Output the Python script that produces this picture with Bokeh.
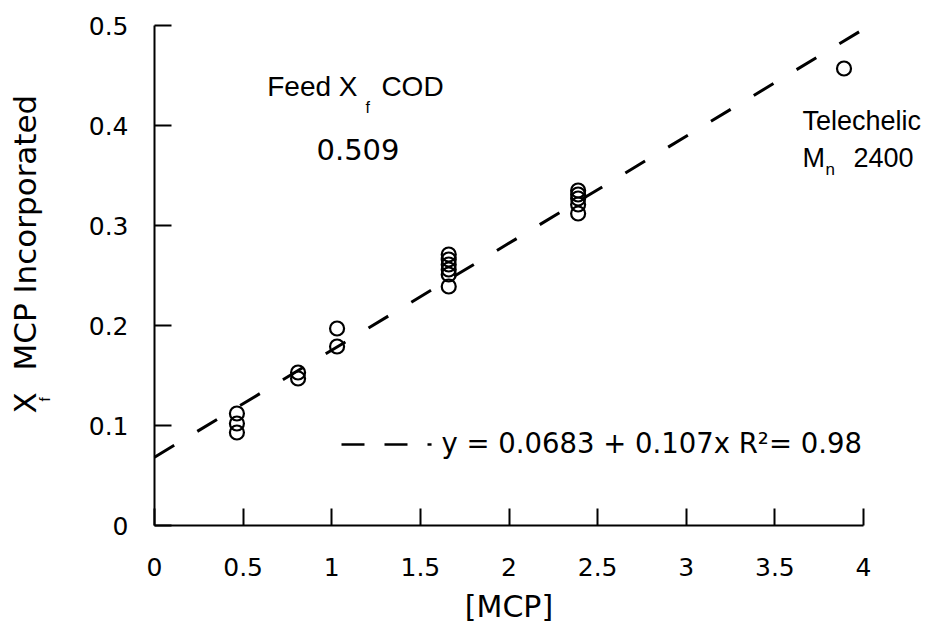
import math
from bokeh.plotting import figure
from bokeh.models import Label, FixedTicker, Range1d
from bokeh.embed import file_html
from bokeh.resources import INLINE

# ---- data ----
mcp_conc = [0.465, 0.465, 0.465, 0.81, 0.81, 1.03, 1.03,
            1.66, 1.66, 1.66, 1.66, 1.66, 1.66,
            2.39, 2.39, 2.39, 2.39, 2.39]
xf_incorporated = [0.112, 0.102, 0.093, 0.153, 0.147, 0.197, 0.179,
                   0.271, 0.266, 0.261, 0.256, 0.251, 0.239,
                   0.335, 0.331, 0.327, 0.321, 0.312]
telechelic_mcp = [3.89]
telechelic_xf = [0.457]

fit_intercept = 0.0683
fit_slope = 0.107
fit_r2 = 0.98
fit_x = [0.0, 4.0]
fit_y = [fit_intercept + fit_slope * v for v in fit_x]

x_ticks = [0, 0.5, 1, 1.5, 2, 2.5, 3, 3.5, 4]
x_tick_labels = ["0", "0.5", "1", "1.5", "2", "2.5", "3", "3.5", "4"]
y_ticks = [0, 0.1, 0.2, 0.3, 0.4, 0.5]
y_tick_labels = ["0", "0.1", "0.2", "0.3", "0.4", "0.5"]

feed_value = "0.509"
telechelic_mn = "2400"

# ---- figure: frame covers the whole canvas, axes fixed at x=0 / y=0 ----
W, H = 933, 629
X0PX, X4PX = 154.0, 863.0      # pixel positions of x=0 and x=4
Y0PX, Y5PX = 525.0, 25.0       # pixel positions of y=0 and y=0.5
sx = (X4PX - X0PX) / 4.0
sy = (Y0PX - Y5PX) / 0.5
x_range = Range1d(-X0PX / sx, (W - X0PX) / sx)
y_range = Range1d(-(H - Y0PX) / sy, Y0PX / sy)

p = figure(width=W, height=H, output_backend="svg", toolbar_location=None,
           x_range=x_range, y_range=y_range,
           min_border_left=0, min_border_right=0,
           min_border_top=0, min_border_bottom=0)
p.outline_line_color = None
p.xgrid.visible = False
p.ygrid.visible = False
p.background_fill_color = "white"
p.border_fill_color = "white"

NUMFONT = "DejaVu Sans"
TXTFONT = "Liberation Sans"

for ax, ticks, labels, standoff, bounds in (
        (p.xaxis[0], x_ticks, x_tick_labels, 32, (0, 4)),
        (p.yaxis[0], y_ticks, y_tick_labels, 26, (0, 0.5))):
    ax.fixed_location = 0
    ax.bounds = bounds
    ax.ticker = FixedTicker(ticks=ticks)
    ax.major_label_overrides = {t: l for t, l in zip(ticks, labels)}
    ax.axis_line_width = 2
    ax.axis_line_color = "black"
    ax.major_tick_line_width = 2
    ax.major_tick_line_color = "black"
    ax.major_tick_in = 17
    ax.major_tick_out = 0
    ax.minor_tick_line_color = None
    ax.major_label_text_font = NUMFONT
    ax.major_label_text_font_size = "25px"
    ax.major_label_text_color = "black"
    ax.major_label_standoff = standoff

# regression line
p.line(fit_x, fit_y, line_color="black", line_width=3, line_dash="23 27")

# data
p.scatter(mcp_conc, xf_incorporated, marker="circle", size=14,
          fill_color=None, line_color="black", line_width=2.2)
p.scatter(telechelic_mcp, telechelic_xf, marker="circle", size=14,
          fill_color=None, line_color="black", line_width=2.2)

# legend-like dash sample
p.line([1.055, 1.563], [0.081, 0.081], line_color="black", line_width=2.5,
       line_dash="23 20")

SHIFT = 11  # px correction of the label baseline


def lab(x, y, text, size, font=TXTFONT, align="left", angle=0.0):
    if angle == 0.0:
        xo, yo = 0, SHIFT
    else:
        xo, yo = -SHIFT, 0
    p.add_layout(Label(x=x, y=y, x_offset=xo, y_offset=yo, text=text,
                       text_font=font, text_font_size=size, text_align=align,
                       text_baseline="alphabetic", text_color="black",
                       angle=angle))


eq_text = "y = %s + %sx R\u00b2= %s" % (fit_intercept, fit_slope, fit_r2)
lab(1.619, 0.072, eq_text, "27.5px", font=NUMFONT)

# Feed X_f COD
lab(0.636, 0.428, "Feed X", "28px")
lab(1.19, 0.407, "f", "16px")
lab(1.28, 0.428, "COD", "28px")
lab(1.148, 0.365, feed_value, "29px", font=NUMFONT, align="center")

# Telechelic Mn 2400
lab(3.656, 0.394, "Telechelic", "27px")
lab(3.656, 0.357, "M", "27px")
lab(3.786, 0.345, "n", "17px")
lab(3.944, 0.357, telechelic_mn, "27px")

# x-axis title
lab(2.0, -0.092, "[MCP]", "30px", font=NUMFONT, align="center")

# y-axis title: X_f MCP Incorporated (rotated)
lab(-0.671, 0.112, "X", "31px", font=NUMFONT, angle=math.pi / 2)
lab(-0.559, 0.124, "f", "15px", angle=math.pi / 2)
lab(-0.671, 0.155, "MCP Incorporated", "31px", font=NUMFONT, angle=math.pi / 2)

open("out.html", "w").write(file_html(p, INLINE))
